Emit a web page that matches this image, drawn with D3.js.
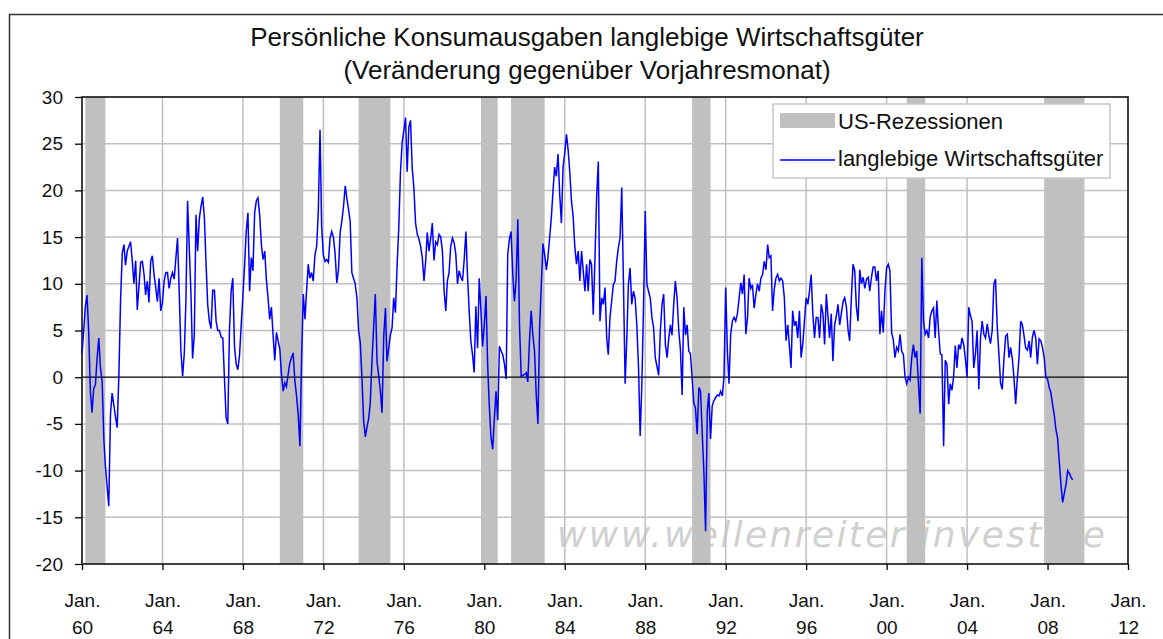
<!DOCTYPE html>
<html>
<head>
<meta charset="utf-8">
<script src="https://cdn.jsdelivr.net/npm/d3@7"></script>
<style>
html, body { margin: 0; padding: 0; background: #fff; }
svg { display: block; font-family: "Liberation Sans", Arial, sans-serif; }
</style>
</head>
<body>
<div id="chart"></div>
<script>
// chart text
const titleLines = ["Persönliche Konsumausgaben langlebige Wirtschaftsgüter", "(Veränderung gegenüber Vorjahresmonat)"];
const legendLabels = ["US-Rezessionen", "langlebige Wirtschaftsgüter"];
const watermark = "www.wellenreiter-invest.de";

// monthly values (% yoy), first value is Jan. 1960, one row per year
const firstMonth = "1960-01";
const durableGoods = [
	2.5, 5, 7.5, 8.8, 5, -1.5, -3.8, -1.2, -0.8, 2, 4.2, 1,
	-0.5, -6.7, -9.5, -11.7, -13.8, -4, -1.7, -3, -4.3, -5.4, 0.3, 8.2,
	13.3, 14.2, 12, 13.5, 14, 14.5, 12.5, 10, 12.5, 7.2, 9.8, 12.3,
	12.4, 11, 8.8, 10.3, 8, 12.4, 13, 11, 9.6, 8.1, 10.6, 7.1,
	8, 10.3, 11.2, 11.2, 9.5, 10.6, 11.2, 10.5, 12.8, 14.9, 9, 2.8,
	0.1, 2.6, 8, 18.9, 14, 9, 2, 4.5, 17.4, 13.5, 17, 18.3,
	19.3, 17, 12.4, 7.8, 6, 5.2, 9.3, 9.3, 6, 5, 5, 4.3,
	4.2, -0.3, -4.3, -5, 4.9, 9.2, 10.6, 3.3, 1.4, 0.8, 2.4, 5.6,
	8.7, 12.1, 15.6, 17.6, 9.2, 12.8, 11.4, 17.6, 18.9, 19.2, 17.3, 14.2,
	12.6, 13.5, 10.5, 8.5, 6.2, 7.5, 4.6, 1.8, 4.8, 3.9, 3, 0.3,
	-1.5, -0.6, -1, 0.3, 1.5, 2.1, 2.6, -0.4, -2, -4, -7.4, 2,
	8.9, 6.2, 9.2, 12.1, 10.6, 11.2, 10.3, 13.1, 14, 17.8, 26.5, 16,
	13.1, 12.4, 12.6, 12.3, 14.9, 15.6, 15, 13.2, 10.1, 11.5, 15.5, 16.7,
	18.3, 20.5, 19.2, 18, 16.7, 11.2, 10.6, 10, 8.5, 5, 3.7, 0,
	-4.7, -6.4, -5.4, -4.5, -2.8, 1.7, 5.3, 8.9, 1.7, 0.2, -1.5, -3.8,
	4.4, 7.4, 1.7, 3.1, 4.5, 5.3, 8.5, 6.9, 12.1, 16, 22, 25.1,
	26.4, 27.8, 22, 26.8, 27.5, 22.4, 20.3, 16.5, 15.3, 14.8, 14, 12.8,
	10.3, 12.5, 15.5, 13.5, 14.8, 16.5, 12.5, 14.5, 14.2, 15.3, 15, 13.5,
	9.2, 7.1, 10.3, 11.2, 14, 14.9, 14.4, 13.2, 10, 11.4, 10.7, 10.3,
	12.6, 15.6, 11, 7.1, 3.9, 2.4, 0.5, 7.6, 3.1, 10.6, 7.1, 3.3,
	5.6, 8.7, 1.4, -3.1, -6.4, -7.7, -4.5, -1.5, -4.6, 3.3, 2.8, 2.4,
	1.4, -0.2, 13.1, 14.8, 15.6, 11, 8.1, 10.5, 16.9, 5.6, 0.1, 0.2,
	0.3, 0.5, -0.5, 4, 7.1, 4.5, 2.8, -1.9, -5, 5.3, 9.9, 14.3,
	13.1, 11.5, 12.8, 14.9, 17, 19.9, 22.5, 21.5, 23.9, 19.6, 16.5, 22.5,
	24, 26, 24.4, 22, 18.9, 17.2, 14, 12.1, 13.5, 10.3, 13.5, 11.4,
	9.2, 12.1, 9.2, 12.6, 12.1, 6.7, 12.4, 19.2, 23.1, 6, 8.5, 7.8,
	9.6, 4.2, 2.4, 6.4, 8.1, 9.9, 10.3, 12.4, 13.9, 14.9, 20.3, 10.3,
	-0.7, 4.2, 9.9, 11.7, 7.8, 9.2, 8.5, 5.6, 1.1, -6.3, -0.7, 7.6,
	17.8, 9.9, 9.2, 8.5, 6.4, 5.3, 2.1, 1.2, 0.2, 4.9, 7.8, 8.9,
	3.5, 2.1, 4, 5.6, 4.5, 7.8, 10.3, 8.5, 5, 3, -1.9, 7.5,
	4.5, 5.6, 2.8, 2.5, 0, -2.8, -3.3, -6.1, -1.1, -1.5, -6, -10.1,
	-16.5, -3.6, -1.7, -6.6, -3.1, -2.5, -2.2, -1.9, -2, -1.5, -2, 0,
	9.6, 2.8, -0.7, 4.6, 6, 6.4, 6, 6.8, 8.5, 10.1, 8.9, 11,
	4.6, 6.4, 10.6, 9.5, 9.9, 7.4, 8.8, 10, 9.2, 10.6, 11, 12.4,
	11.5, 14.2, 12.8, 13, 7.1, 9.4, 10.6, 11, 10.3, 10.6, 10.3, 8.5,
	3.9, 5.6, 3.5, 1, 7.1, 5.5, 6, 4.2, 7.1, 2.1, 3.6, 6,
	8.5, 7.8, 9.2, 11, 6.8, 4.2, 6.4, 6.4, 4.2, 7.8, 6.8, 3.5,
	8.9, 6.4, 4.2, 6.8, 1.7, 5.6, 6.5, 7.8, 5.6, 6.8, 8.1, 8.5,
	7.5, 5, 3.9, 8.5, 12.1, 11.4, 7.5, 6, 11.5, 10, 10.7, 9.5,
	10.5, 10.7, 9.2, 10.7, 11.8, 11.8, 10.3, 11.4, 4.6, 7.1, 4.8, 9.2,
	11.7, 12.1, 11.4, 4.8, 4, 2.1, 3.2, 2.8, 4.6, 2.8, 2.4, 0,
	-0.7, 0, -0.3, 2.1, 3.5, 2.1, 2.8, -0.7, -3.9, 12.8, 6, 4.6,
	5, 4.2, 6.4, 7.1, 7.4, 4.2, 8.2, 5, 2.5, 2.4, -7.4, 1.8,
	1.4, -2.9, -0.7, -1.4, 0, 3.4, 1, 3.5, 3, 4.2, 3.5, 2,
	0, 7.5, 6.6, 6, 1, 2.5, 5, -1.3, 4.2, 6, 4.6, 4.2,
	5.7, 4.4, 3.6, 5, 10, 10.5, 5.5, 2.5, -0.7, -1.3, 2, 4.4,
	4.6, 2.1, 3.2, 2, 0, -2.9, -0.2, 2.1, 6, 5.6, 4.4, 3.1,
	2.9, 3.9, 2.1, 4.3, 5, 4.2, 1.4, 4.1, 3.9, 3.2, 2.1, 0,
	-0.2, -1.1, -1.6, -2.9, -4, -5.6, -6.5, -9, -11.5, -13.4, -12.4, -11.5,
	-10, -10.3, -10.7, -11
];

// shaded recession periods (start month, end month exclusive)
const recessionStart = ["1960-03", "1969-11", "1973-10", "1979-11", "1981-05", "1990-05", "2001-01", "2007-11"];
const recessionEnd = ["1961-03", "1971-01", "1975-05", "1980-09", "1983-01", "1991-04", "2001-12", "2009-11"];

// axes
const yTicks = [30, 25, 20, 15, 10, 5, 0, -5, -10, -15, -20];
const xTickYears = [1960, 1964, 1968, 1972, 1976, 1980, 1984, 1988, 1992, 1996, 2000, 2004, 2008, 2012];

const W = 1163, H = 639;
const plot = { left: 82, right: 1128, top: 97, bottom: 564 };
const parseMonth = d3.timeParse("%Y-%m");

const x = d3.scaleTime()
	.domain([new Date(1960, 0, 1), new Date(2012, 0, 1)])
	.range([plot.left, plot.right]);
const y = d3.scaleLinear().domain([-20, 30]).range([plot.bottom, plot.top]);

const start = parseMonth(firstMonth);
const series = durableGoods.map((v, i) => ({ date: d3.timeMonth.offset(start, i), value: v }));
const recessions = recessionStart.map((s, i) => ({ from: parseMonth(s), to: parseMonth(recessionEnd[i]) }));

const svg = d3.select("#chart").append("svg").attr("width", W).attr("height", H);

// outer chart frame (only left and top edges are inside the picture)
svg.append("rect")
	.attr("x", 9.5).attr("y", 14.5)
	.attr("width", W).attr("height", H)
	.attr("fill", "none").attr("stroke", "#333").attr("stroke-width", 1.5);

// title
svg.append("g").selectAll("text")
	.data(titleLines)
	.join("text")
	.attr("x", 587)
	.attr("y", (d, i) => 37 + i * 33)
	.attr("dy", "0.35em")
	.attr("text-anchor", "middle")
	.attr("font-size", 26)
	.attr("fill", "#111")
	.text((d) => d);

// watermark behind the grid
svg.append("text")
	.attr("x", 557).attr("y", 547)
	.attr("textLength", 548).attr("lengthAdjust", "spacing")
	.attr("font-family", "'DejaVu Sans', Verdana, sans-serif")
	.attr("font-style", "italic")
	.attr("font-size", 36)
	.attr("fill", "#d0d0d0")
	.text(watermark);

const grid = svg.append("g").attr("stroke", "#c0c0c0").attr("stroke-width", 1.5);
grid.selectAll("line.h")
	.data(yTicks.filter((d) => d !== 30 && d !== -20 && d !== 0))
	.join("line")
	.attr("class", "h")
	.attr("x1", plot.left).attr("x2", plot.right)
	.attr("y1", (d) => y(d)).attr("y2", (d) => y(d));
grid.selectAll("line.v")
	.data(xTickYears.slice(1, -1))
	.join("line")
	.attr("class", "v")
	.attr("x1", (d) => x(new Date(d, 0, 1))).attr("x2", (d) => x(new Date(d, 0, 1)))
	.attr("y1", plot.top).attr("y2", plot.bottom);

// recession bands
svg.append("g").selectAll("rect")
	.data(recessions)
	.join("rect")
	.attr("x", (d) => x(d.from))
	.attr("width", (d) => x(d.to) - x(d.from))
	.attr("y", plot.top)
	.attr("height", plot.bottom - plot.top)
	.attr("fill", "#c0c0c0");

// zero line
svg.append("line")
	.attr("x1", plot.left).attr("x2", plot.right)
	.attr("y1", y(0)).attr("y2", y(0))
	.attr("stroke", "#000").attr("stroke-width", 1.3);

// plot frame
svg.append("rect")
	.attr("x", plot.left).attr("y", plot.top)
	.attr("width", plot.right - plot.left).attr("height", plot.bottom - plot.top)
	.attr("fill", "none").attr("stroke", "#111").attr("stroke-width", 1.6);

// data line
const line = d3.line()
	.x((d) => x(d.date))
	.y((d) => y(d.value));
svg.append("path")
	.datum(series)
	.attr("fill", "none")
	.attr("stroke", "#0000ff")
	.attr("stroke-width", 1.5)
	.attr("stroke-linejoin", "miter")
	.attr("d", line);

// y axis, plain hyphen for negatives
const yAxis = svg.append("g")
	.attr("transform", `translate(${plot.left},0)`)
	.call(d3.axisLeft(y).tickValues(yTicks).tickSize(7).tickPadding(12).tickFormat((d) => String(d)));
yAxis.select(".domain").remove();
yAxis.selectAll(".tick line").attr("stroke", "#000").attr("stroke-width", 1.3);
yAxis.selectAll(".tick text").attr("font-size", 19).attr("fill", "#111")
	.attr("font-family", "'Liberation Sans', Arial, sans-serif");

// x axis with two line labels
const xAxis = svg.append("g")
	.attr("transform", `translate(0,${plot.bottom})`)
	.call(d3.axisBottom(x).tickValues(xTickYears.map((d) => new Date(d, 0, 1))).tickSize(6).tickFormat(""));
xAxis.select(".domain").remove();
xAxis.selectAll(".tick line").attr("stroke", "#000").attr("stroke-width", 1.3);
xAxis.selectAll(".tick").each(function (d) {
	const t = d3.select(this);
	t.append("text").attr("y", 36).attr("dy", "0.35em").text("Jan.");
	t.append("text").attr("y", 63).attr("dy", "0.35em").text(d3.timeFormat("%y")(d));
});
xAxis.selectAll(".tick text")
	.attr("font-size", 19).attr("fill", "#111").attr("text-anchor", "middle")
	.attr("font-family", "'Liberation Sans', Arial, sans-serif");

// legend
const legend = svg.append("g").attr("transform", "translate(773,104)");
legend.append("rect")
	.attr("width", 337).attr("height", 74)
	.attr("fill", "#fff").attr("stroke", "#c8c8c8").attr("stroke-width", 1.5);
legend.append("rect")
	.attr("x", 7).attr("y", 9).attr("width", 55).attr("height", 15)
	.attr("fill", "#c0c0c0");
legend.append("line")
	.attr("x1", 7).attr("x2", 62).attr("y1", 56).attr("y2", 56)
	.attr("stroke", "#0000ff").attr("stroke-width", 1.5);
legend.selectAll("text")
	.data(legendLabels)
	.join("text")
	.attr("x", 65)
	.attr("y", (d, i) => (i === 0 ? 17 : 54))
	.attr("dy", "0.35em")
	.attr("font-size", 22)
	.attr("fill", "#111")
	.text((d) => d);
</script>
</body>
</html>
